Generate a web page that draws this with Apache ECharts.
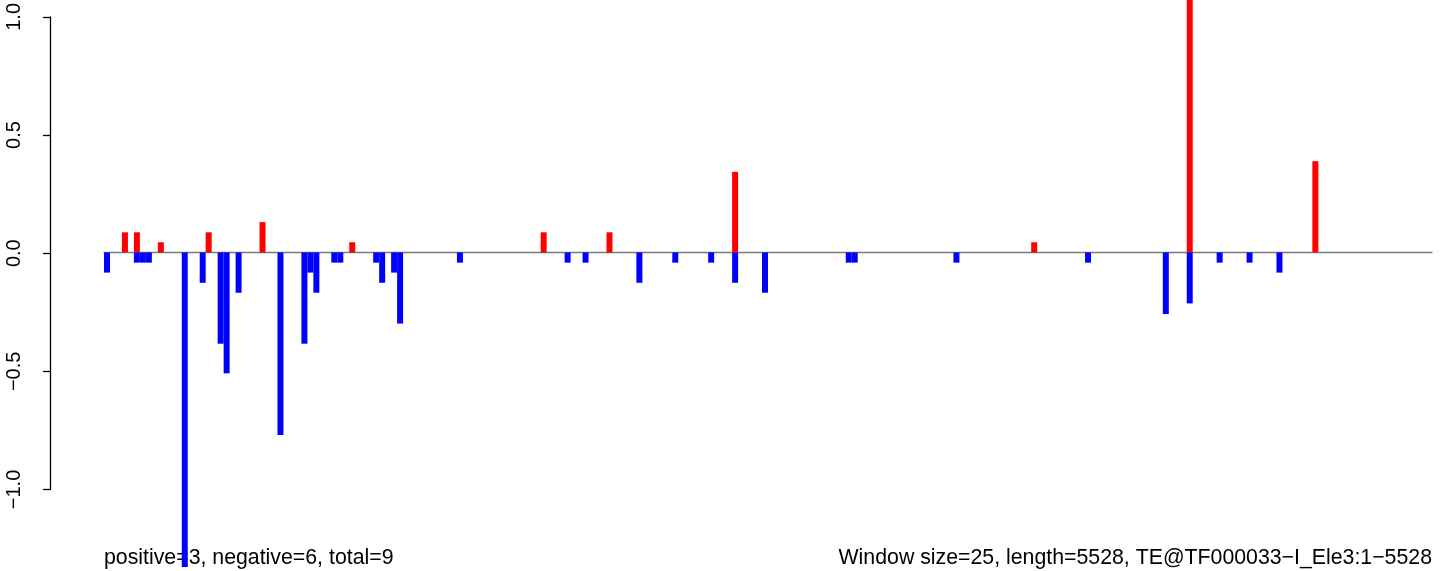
<!DOCTYPE html>
<html>
<head>
<meta charset="utf-8">
<script src="https://cdn.jsdelivr.net/npm/echarts@6/dist/echarts.min.js"></script>
<style>
html,body{margin:0;padding:0;background:#fff;}
#chart{width:1443px;height:571px;}
</style>
</head>
<body>
<div id="chart"></div>
<script>
// number of windows (window size 25 over length 5528)
var nWindows = 222;
// positive windows (index, value)
var posIdx = [3, 5, 9, 17, 26, 41, 73, 84, 105, 155, 181, 202];
var posVal = [0.085, 0.085, 0.043, 0.085, 0.128, 0.043, 0.085, 0.085, 0.34, 0.043, 1.1, 0.385];
// negative windows (index, value)
var negIdx = [0, 5, 6, 7, 13, 16, 19, 20, 22, 29, 33, 34, 35, 38, 39, 45, 46, 48, 49, 59, 77, 80, 89, 95, 101, 105, 110, 124, 125, 142, 164, 177, 181, 186, 191, 196];
var negVal = [-0.085, -0.043, -0.043, -0.043, -1.4, -0.128, -0.385, -0.51, -0.17, -0.77, -0.385, -0.085, -0.17, -0.043, -0.043, -0.043, -0.128, -0.085, -0.3, -0.043, -0.043, -0.043, -0.128, -0.043, -0.043, -0.128, -0.17, -0.043, -0.043, -0.043, -0.043, -0.26, -0.215, -0.043, -0.043, -0.085];
// y axis ticks
var yTicks = [-1.0, -0.5, 0.0, 0.5, 1.0];
var yMin = -1.327, yMax = 1.065;
var leftText = 'positive=3, negative=6, total=9';
var rightText = 'Window size=25, length=5528, TE@TF000033\u2212I_Ele3:1\u22125528';

var categories = [];
for (var i = 0; i < nWindows; i++) categories.push(String(i + 1));
function fill(idx, val) {
  var arr = [];
  for (var i = 0; i < nWindows; i++) arr.push('-');
  for (var j = 0; j < idx.length; j++) arr[idx[j]] = val[j];
  return arr;
}
var posData = fill(posIdx, posVal);
var negData = fill(negIdx, negVal);

var H = 571, gTop = 0, gBottom = 4;
var pxPerUnit = (H - gTop - gBottom) / (yMax - yMin);
var axTop = gTop + (yMax - yTicks[yTicks.length - 1]) * pxPerUnit;
var axBottom = H - (gTop + (yMax - yTicks[0]) * pxPerUnit);

var font = '"Liberation Sans", Arial, Helvetica, sans-serif';
var chart = echarts.init(document.getElementById('chart'), null, {renderer: 'canvas'});
chart.setOption({
  animation: false,
  backgroundColor: '#ffffff',
  grid: [
    {left: 104, right: 11, top: gTop, bottom: gBottom},
    {left: 50, width: 1, top: axTop, bottom: axBottom}
  ],
  xAxis: [
    {type: 'category', gridIndex: 0, data: categories,
     axisLine: {show: true, onZero: true, lineStyle: {color: '#7a7a7a', width: 1.3}},
     axisTick: {show: false}, axisLabel: {show: false}, splitLine: {show: false}},
    {type: 'value', gridIndex: 1, show: false}
  ],
  yAxis: [
    {type: 'value', gridIndex: 0, min: yMin, max: yMax, show: false},
    {type: 'value', gridIndex: 1, min: yTicks[0], max: yTicks[yTicks.length - 1], interval: 0.5,
     axisLine: {show: true, lineStyle: {color: '#000', width: 1.3}},
     axisTick: {show: true, length: 7, lineStyle: {color: '#000', width: 1.3}},
     splitLine: {show: false},
     axisLabel: {show: true, rotate: 90, margin: 26, color: '#000', fontSize: 20, fontFamily: font,
       formatter: function (v) { return v.toFixed(1).replace('-', '\u2212'); }}}
  ],
  series: [
    {name: 'positive', type: 'bar', xAxisIndex: 0, yAxisIndex: 0, data: posData,
     barCategoryGap: 0, barGap: '-100%', itemStyle: {color: '#ff0000'}, z: 3},
    {name: 'negative', type: 'bar', xAxisIndex: 0, yAxisIndex: 0, data: negData,
     barCategoryGap: 0, barGap: '-100%', itemStyle: {color: '#0000ff'}, z: 3}
  ],
  graphic: [
    {type: 'text', left: 104, top: 548, z: 1,
     style: {text: leftText, fill: '#000', font: '21.3px ' + font}},
    {type: 'text', right: 11, top: 548, z: 1,
     style: {text: rightText, fill: '#000', font: '21.3px ' + font}}
  ]
});
</script>
</body>
</html>
